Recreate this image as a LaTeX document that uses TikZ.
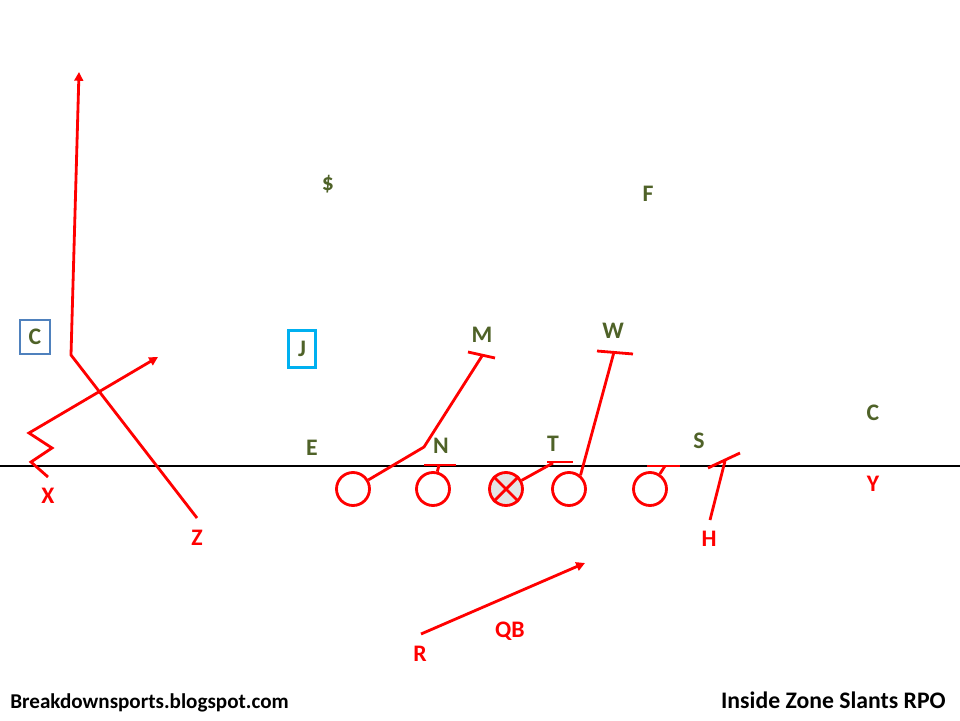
\documentclass[tikz,border=0pt]{standalone}
\usepackage{fontspec}
\setmainfont{Carlito}
\usepackage{xcolor}
\usetikzlibrary{arrows.meta, positioning, calc}

\definecolor{playred}{HTML}{FF0000}
\definecolor{defgreen}{HTML}{4F6228}
\definecolor{boxblue}{HTML}{4F81BD}
\definecolor{boxcyan}{HTML}{00B0F0}
\definecolor{ballgray}{HTML}{E4E4E4}

\begin{document}
\begin{tikzpicture}[
    x=0.02cm, y=-0.02cm,
    font=\bfseries\fontsize{13.5}{15}\selectfont,
    lineman/.style={
        circle,
        draw=playred,
        line width=1.6pt,
        minimum size=0.66cm,
        inner sep=0pt
    },
    defender/.style={
        text=defgreen,
        inner sep=1pt
    },
    coverbox/.style={
        defender,
        draw,
        line width=1.2pt,
        minimum width=0.6cm,
        minimum height=0.68cm
    },
    offense/.style={
        text=playred,
        inner sep=1pt
    },
    route/.style={
        draw=playred,
        line width=1.6pt
    },
    pass/.style={
        route,
        -{Triangle[length=5pt,width=5pt]}
    },
    los/.style={
        line width=1.7pt
    }
]

\useasboundingbox (0,0) rectangle (960,720);

% Line of scrimmage
\draw[los] (0,466) -- (960,466);

% Offensive line
\foreach \n/\x in {lt/353, lg/433, rg/569, rt/650} {
    \node[lineman] (\n) at (\x,489) {};
}
\node[lineman, fill=ballgray] (ctr) at (506,489) {};
\draw[route] (ctr.45) -- (ctr.225) (ctr.135) -- (ctr.315);

% Defense
\foreach \n/\t/\x/\y in {dol/\$/328/184, fs/F/648/194, mike/M/482/335, will/W/613/331,
                         end/E/312/448, nose/N/441/446, tech/T/553/444, sam/S/699/441, rc/C/873/413} {
    \node[defender] (\n) at (\x,\y) {\t};
}
\node[coverbox, draw=boxblue] (lc) at (35,337) {C};
\node[coverbox, draw=boxcyan, minimum width=0.54cm, minimum height=0.74cm] (jack) at (302,349) {J};

% Offense labels
\foreach \n/\t/\x/\y in {xr/X/48/496, zr/Z/197/538, hb/H/709/539, yr/Y/873/484, qb/QB/510/631, rb/R/420/654} {
    \node[offense] (\n) at (\x,\y) {\t};
}

% Blocking points and bars
\foreach \n/\ax/\ay/\bx/\by/\ex/\ey in {mk/468/352/495/358/482/356, ns/424/465/456/465/439/465,
                                        tc/547/462/573/462/553/463, wl/597/351/633/354/614/352,
                                        st/647/466/680/466/665/466, hh/708/468/740/453/725/461} {
    \coordinate (\n L) at (\ax,\ay);
    \coordinate (\n R) at (\bx,\by);
    \coordinate (\n) at (\ex,\ey);
    \draw[route] (\n L) -- (\n R);
}

% Blocks
\coordinate (ltbend) at (424,447);
\draw[route] (lt) -- (ltbend) -- (mk);
\draw[route] (lg) -- (ns);
\draw[route] (ctr) -- (tc);
\draw[route] (rg.50) -- (wl);
\draw[route] (rt) -- (st);

% H kick out
\coordinate (hstart) at (710,520);
\draw[route] (hstart) -- (hh);

% X slant
\coordinate (xstart) at (48,477);
\coordinate (xa) at (31,462);
\coordinate (xb) at (52,448);
\coordinate (xc) at (29,433);
\coordinate (xend) at (158,357);
\draw[pass] (xstart) -- (xa) -- (xb) -- (xc) -- (xend);

% Z route
\coordinate (zstart) at (197,518);
\coordinate (zbend) at (71,355);
\coordinate (zend) at (79,72);
\draw[pass] (zstart) -- (zbend) -- (zend);

% Run path
\coordinate (rstart) at (421,634);
\coordinate (rend) at (585,563);
\draw[pass] (rstart) -- (rend);

% Footer
\node[anchor=west, inner sep=0pt, font=\bfseries\fontsize{12}{14}\selectfont] (site) at (10,703) {Breakdownsports.blogspot.com};
\node[anchor=east, inner sep=0pt] (title) at (946,700) {Inside Zone Slants RPO};

\end{tikzpicture}
\end{document}
